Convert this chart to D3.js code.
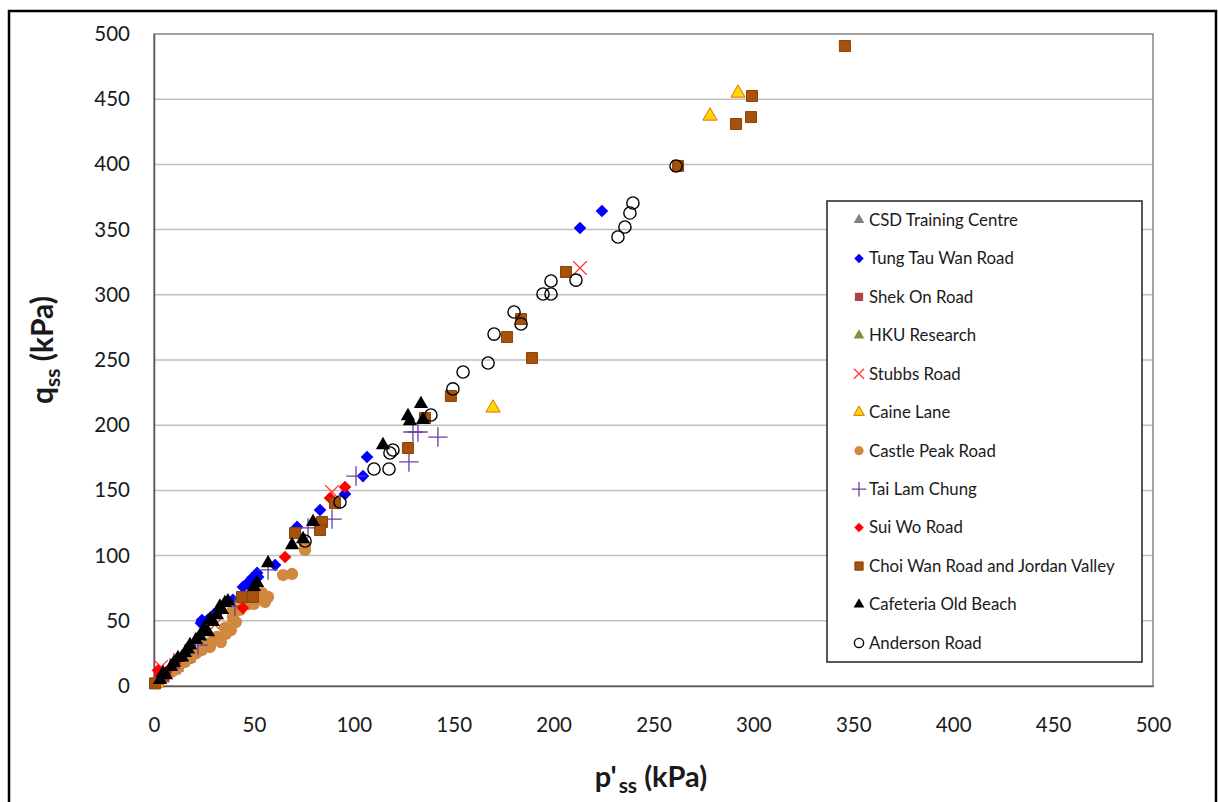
<!DOCTYPE html>
<html><head><meta charset="utf-8">
<script src="https://cdn.jsdelivr.net/npm/d3@7"></script>
<style>
html,body{margin:0;padding:0;background:#fff;}
svg{display:block;font-family:Lato,"Open Sans",sans-serif;}
</style></head>
<body><svg id="c" width="1218" height="802"></svg>
<script>
// ---- data (p'ss, qss in kPa) ----
const xTicks = [0,50,100,150,200,250,300,350,400,450,500];
const yTicks = [0,50,100,150,200,250,300,350,400,450,500];
const seriesNames = ["CSD Training Centre","Tung Tau Wan Road","Shek On Road","HKU Research","Stubbs Road","Caine Lane","Castle Peak Road","Tai Lam Chung","Sui Wo Road","Choi Wan Road and Jordan Valley","Cafeteria Old Beach","Anderson Road"];

const csdTraining = [[3,5],[8,11],[14,19],[20,27]];
const tungTauWan = [[224.2,364.3],[213.2,351.2],[106.6,175.6],[104.6,161],[95.6,147.2],[83.1,135],[71.6,122],[60.6,92.8],[51.6,86.7],[49.1,82.8],[52.1,83.5],[44.5,75.9],[46.5,78.5],[39.5,66],[23.5,48.3],[24,50.6],[27,51],[33,58],[30,55],[18,31],[6,9]];
const shekOn = [[5,7],[12,15],[18,22]];
const hkuResearch = [[2,3],[10,12],[16,20]];
const stubbs = [[213.2,320.6],[89.1,148.8],[3.5,14.6],[13,20],[30.5,47]];
const caineLane = [[292.3,454.7],[278.3,437.1],[169.7,213.2],[41.5,60.6],[16,26],[1.5,2.3],[37,44],[45,62]];
const castlePeak = [[75.6,104.3],[75.6,107.4],[64.6,85.1],[69.1,85.9],[57.1,68.3],[54.1,71.3],[55.6,64.4],[48,66],[51.6,67.5],[45,63],[50,63],[43,58.3],[39.5,52.9],[39.5,58.3],[41,49],[38.5,42.9],[35.5,44.5],[36,40],[33.5,33.7],[31.5,37.6],[30,35],[28,33],[28,29.9],[26,31],[24,27.6],[21,25],[18.5,22.2],[15.5,18.4],[12,14],[9,11],[2,4.6],[0.5,2.3]];
const taiLamChung = [[129.6,194.8],[132.1,194.8],[142.1,190.9],[127.6,171.8],[101.1,161],[89.1,128],[77.1,121.2],[57.1,89],[40.5,61.3],[22,31.4],[8,13.8]];
const suiWo = [[95.6,152.6],[88.1,144.2],[65.6,98.9],[44.5,59.8],[6,10.7],[3,7.7],[10.5,17.6],[2,12]];
const choiWan = [[345.8,490.8],[299.3,452.5],[298.8,436.3],[291.3,431],[262.3,398.8],[206.2,317.5],[183.7,281.4],[176.7,267.6],[189.2,251.5],[148.6,222.4],[135.6,205.5],[127.1,182.5],[90.6,140.3],[84.1,125.8],[83.1,119.6],[70.6,117.3],[44,68.3],[49.5,68.3],[0.5,2]];
const cafeteria = [[133.6,216.3],[127.1,207],[128.1,203.2],[134.6,204],[114.6,184.8],[79.6,125.8],[69.1,108.1],[74.6,112.7],[57.1,94.3],[51.6,79],[50,76],[37,65],[35.5,63.7],[34,58.3],[33,61],[31.5,54.4],[29.5,49.1],[28,51],[27,41.4],[25,44],[23,38],[21,35.3],[18,31.4],[17,28],[15.5,25.3],[14,22],[12,21.5],[10,18],[8.5,14.6],[6,8.4],[4.5,10],[3,4.6]];
const anderson = [[239.7,370.4],[238.2,362.7],[235.7,352],[232.2,344.3],[211.2,311.3],[198.7,310.6],[194.7,300.6],[198.7,300.6],[180.2,286.8],[183.7,277.6],[170.2,269.9],[167.2,247.7],[154.7,240.8],[149.6,227.8],[138.6,207.8],[119.6,181],[118.1,178.7],[110.1,166.4],[117.6,166.4],[93.1,141.1],[75.6,111.2],[261.3,398.8]];

const seriesData = [csdTraining,tungTauWan,shekOn,hkuResearch,stubbs,caineLane,castlePeak,taiLamChung,suiWo,choiWan,cafeteria,anderson];

// ---- styles ----
const styles = [
  {sym:"triangle", fill:"#808080", stroke:"none"},
  {sym:"diamond", fill:"#0000FF", stroke:"none"},
  {sym:"square", fill:"#B0413E", stroke:"none"},
  {sym:"triangle", fill:"#77933C", stroke:"none"},
  {sym:"times", fill:"none", stroke:"#FF3B3B"},
  {sym:"triangle", fill:"#FFD700", stroke:"#E46C0A"},
  {sym:"circle", fill:"#D2883E", stroke:"none"},
  {sym:"plus", fill:"none", stroke:"#6A3FA0"},
  {sym:"diamond", fill:"#FF0000", stroke:"none"},
  {sym:"square", fill:"#A5520C", stroke:"#8B4208"},
  {sym:"triangle", fill:"#000000", stroke:"none"},
  {sym:"circle", fill:"none", stroke:"#000000"}
];

const svg = d3.select("#c");
const x = d3.scaleLinear().domain([0,500]).range([154,1153]);
const y = d3.scaleLinear().domain([0,500]).range([686,34]);

function symPath(sym, k){
  switch(sym){
    case "triangle": return d3.symbol(d3.symbolTriangle, 88*k*k)();
    case "diamond": return d3.symbol(d3.symbolSquare, 80*k*k)();
    case "square": return d3.symbol(d3.symbolSquare, 121*k*k)();
    case "circle": return d3.symbol(d3.symbolCircle, 118*k*k)();
    case "plus": return d3.symbol(d3.symbolPlus, 125*k*k)();
    case "times": return d3.symbol(d3.symbolTimes, 120*k*k)();
  }
}
function drawSym(g, st, cx, cy, k){
  const p = g.append("path").attr("d", symPath(st.sym,k))
    .attr("transform", `translate(${cx},${cy})` + (st.sym==="diamond"?" rotate(45)":""))
    .attr("fill", st.fill).attr("stroke", st.stroke);
  if (st.sym==="plus"||st.sym==="times") p.attr("stroke-width",1.3);
  else if (st.sym==="circle" && st.fill==="none") p.attr("stroke-width",1.4);
  else if (st.stroke!=="none") p.attr("stroke-width",1);
  return p;
}

// outer frame
svg.append("rect").attr("x",9).attr("y",11).attr("width",1207).attr("height",820)
  .attr("fill","#fff").attr("stroke","#000").attr("stroke-width",2.5);

// gridlines
svg.append("g").selectAll("line").data(yTicks.filter(v=>v>0&&v<500)).join("line")
  .attr("x1",x(0)).attr("x2",x(500)).attr("y1",d=>y(d)).attr("y2",d=>y(d))
  .attr("stroke","#BFBFBF").attr("stroke-width",1.5);

// plot border
svg.append("rect").attr("x",x(0)).attr("y",y(500)).attr("width",x(500)-x(0)).attr("height",y(0)-y(500))
  .attr("fill","none").attr("stroke","#858585").attr("stroke-width",1.5);

// axes
const ax = svg.append("g").attr("transform",`translate(0,${y(0)})`)
  .call(d3.axisBottom(x).tickValues(xTicks).tickSize(0).tickPadding(31));
const ay = svg.append("g").attr("transform",`translate(${x(0)},0)`)
  .call(d3.axisLeft(y).tickValues(yTicks).tickSize(0).tickPadding(24));
[ax,ay].forEach(a=>{
  a.select(".domain").attr("stroke","#595959").attr("stroke-width",1.5);
  a.selectAll("text").attr("font-family","Lato, sans-serif").attr("font-size",20.5).attr("fill","#1a1a1a");
});

// points
const pg = svg.append("g");
seriesData.forEach((data,i)=>{
  const g = pg.append("g");
  data.forEach(d=>drawSym(g, styles[i], x(d[0]), y(d[1]), 1));
});

// legend
const lg = svg.append("g");
lg.append("rect").attr("x",827).attr("y",201).attr("width",315).attr("height",461)
  .attr("fill","#fff").attr("stroke","#222").attr("stroke-width",1.5);
seriesNames.forEach((n,i)=>{
  const cy = 220 + i*38.45;
  drawSym(lg, styles[i], 859, cy, 0.75);
  lg.append("text").attr("x",869).attr("y",cy).attr("dy","0.35em")
    .attr("font-size",16.8).attr("fill","#1a1a1a").text(n);
});

// axis titles
const xt = svg.append("text").attr("x",651).attr("y",787).attr("text-anchor","middle")
  .attr("font-size",29).attr("font-weight","bold").attr("fill","#1a1a1a");
xt.append("tspan").text("p'");
xt.append("tspan").attr("font-size",21).attr("dx",2).attr("dy",6).text("ss");
xt.append("tspan").attr("dy",-6).text(" (kPa)");

const yt = svg.append("text").attr("transform","translate(53,350) rotate(-90)").attr("text-anchor","middle")
  .attr("font-size",30).attr("font-weight","bold").attr("fill","#1a1a1a");
yt.append("tspan").text("q");
yt.append("tspan").attr("font-size",21).attr("dy",7).text("ss");
yt.append("tspan").attr("dy",-7).text(" (kPa)");
</script>
</body></html>
